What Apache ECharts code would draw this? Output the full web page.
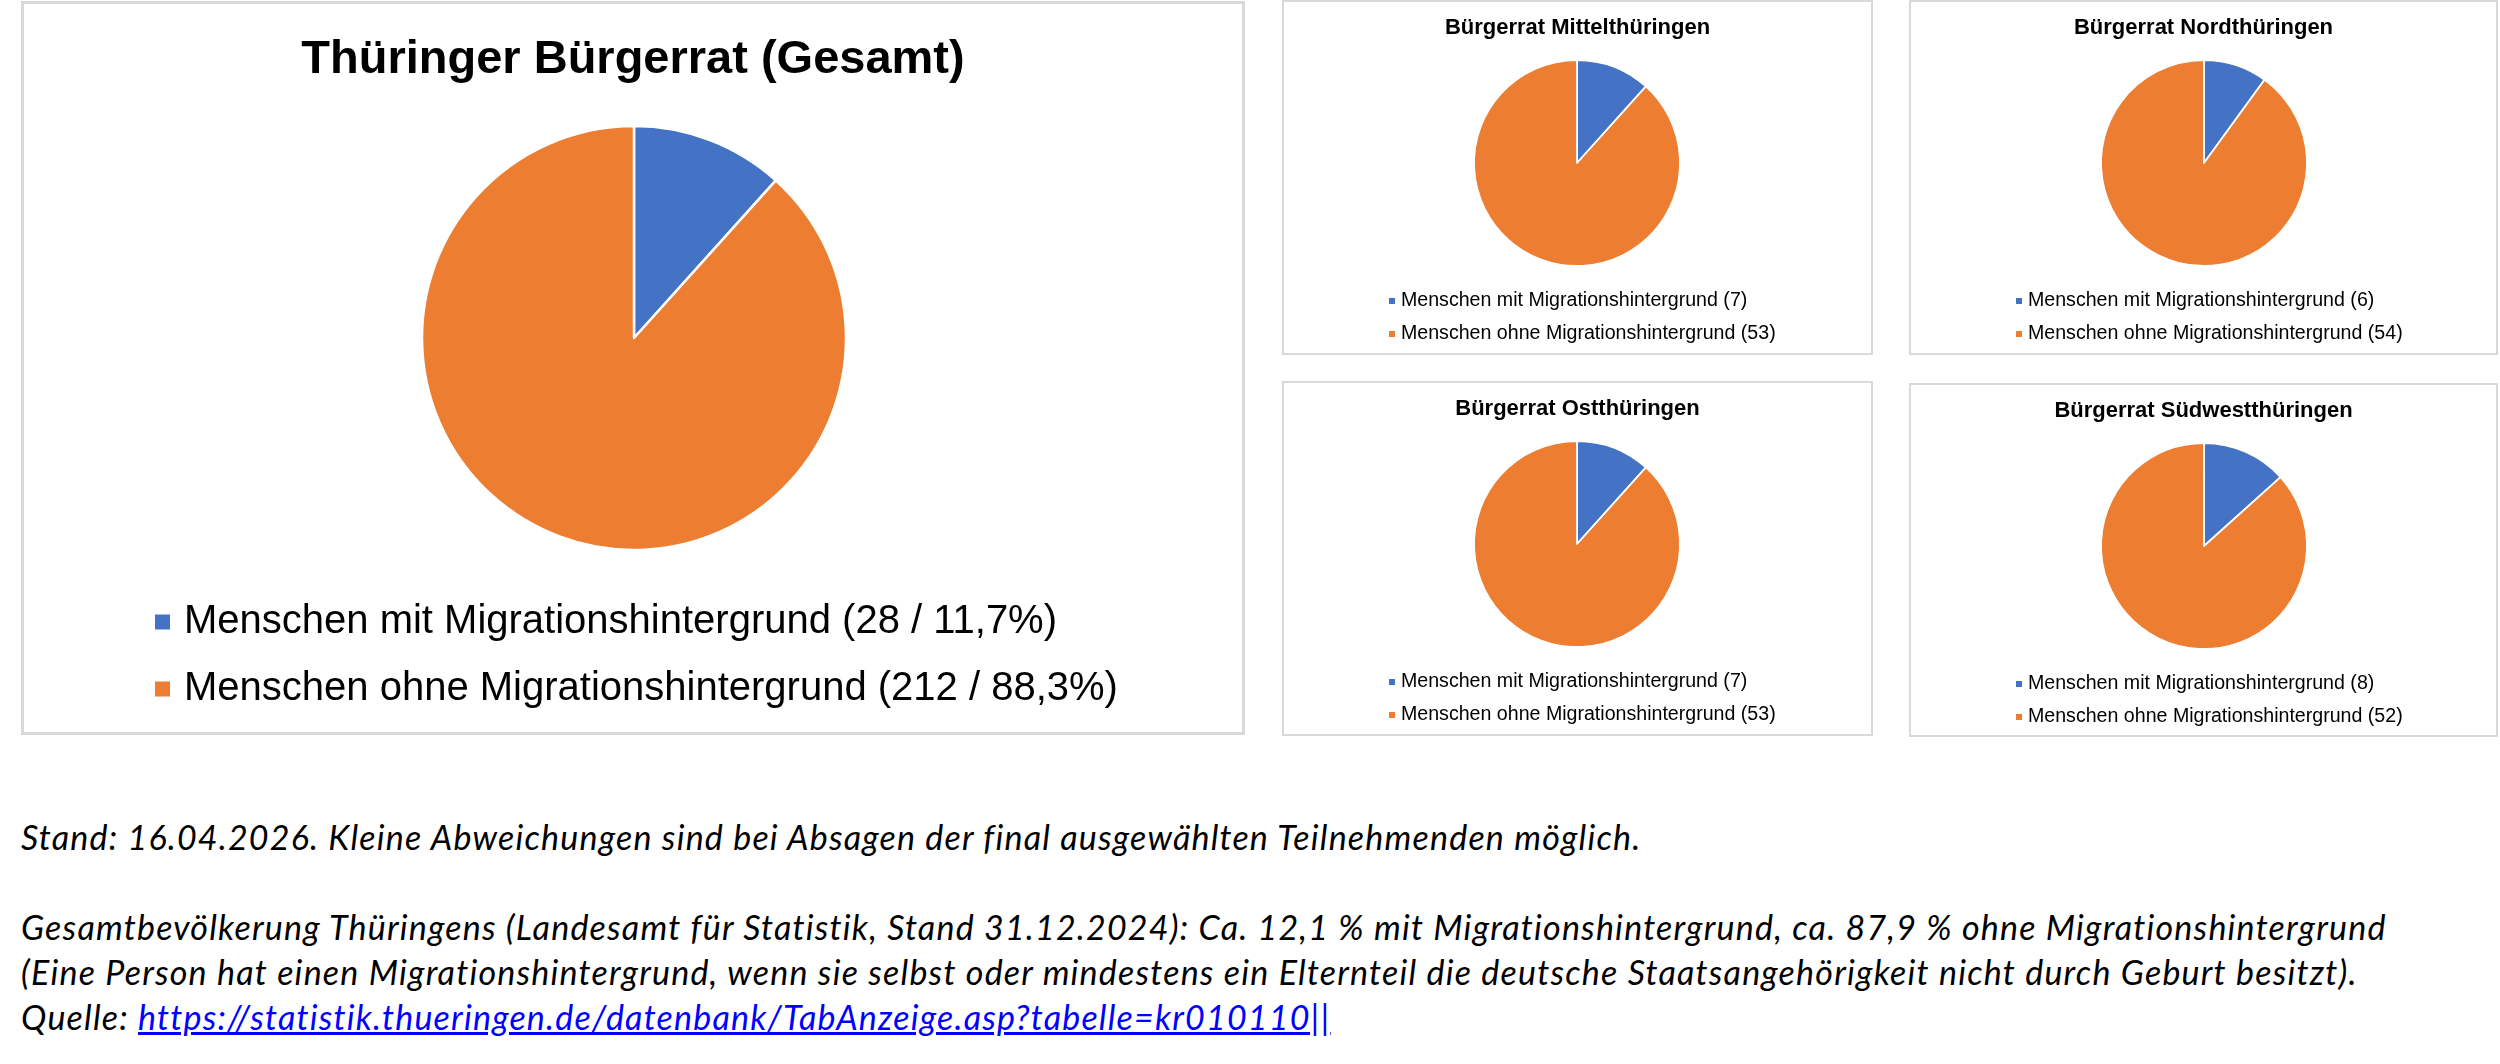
<!DOCTYPE html>
<html lang="de">
<head>
    <meta charset="UTF-8">
    <title>Thüringer Bürgerrat</title>
    <script src="https://cdn.jsdelivr.net/npm/echarts@6/dist/echarts.min.js"></script>
    <style>
        body { margin: 0; width: 2500px; height: 1064px; background: #fff; position: relative; overflow: hidden; }
        .box { position: absolute; box-sizing: border-box; border: 2px solid #d9d9d9; background: #fff; }
        #box_total { left: 21px; top: 1px; width: 1224px; height: 734px; border-width: 3px; }
        #box_mitte { left: 1282px; top: 0; width: 591px; height: 355px; }
        #box_nord { left: 1909px; top: 0; width: 589px; height: 355px; }
        #box_ost { left: 1282px; top: 381px; width: 591px; height: 355px; }
        #box_suedwest { left: 1909px; top: 383px; width: 589px; height: 354px; }
        .note {
            position: absolute; left: 21px; margin: 0;
            font-family: Lato, "Open Sans", sans-serif; font-style: italic;
            font-size: 34px; letter-spacing: 1.2px; line-height: 45px; color: #000; white-space: nowrap;
        }
        .note a { color: #0000ff; text-decoration: underline; }
    </style>
</head>
<body>
<div class="box" id="box_total"></div>
<div class="box" id="box_mitte"></div>
<div class="box" id="box_nord"></div>
<div class="box" id="box_ost"></div>
<div class="box" id="box_suedwest"></div>

<p class="note" style="top:814px">Stand: 16.04.2026. Kleine Abweichungen sind bei Absagen der final ausgewählten Teilnehmenden möglich.</p>
<p class="note" style="top:904px">Gesamtbevölkerung Thüringens (Landesamt für Statistik, Stand 31.12.2024): Ca. 12,1 % mit Migrationshintergrund, ca. 87,9 % ohne Migrationshintergrund<br>(Eine Person hat einen Migrationshintergrund, wenn sie selbst oder mindestens ein Elternteil die deutsche Staatsangehörigkeit nicht durch Geburt besitzt).<br>Quelle: <a href="https://statistik.thueringen.de/datenbank/TabAnzeige.asp?tabelle=kr010110||">https://statistik.thueringen.de/datenbank/TabAnzeige.asp?tabelle=kr010110||</a></p>

<script>
    // Daten
    var categories = ['Menschen mit Migrationshintergrund', 'Menschen ohne Migrationshintergrund'];
    var sliceColors = ['#4472C4', '#ED7D31'];

    var totalTitle = 'Thüringer Bürgerrat (Gesamt)';
    var totalValues = [28, 212];

    var regionTitles = ['Bürgerrat Mittelthüringen', 'Bürgerrat Nordthüringen', 'Bürgerrat Ostthüringen', 'Bürgerrat Südwestthüringen'];
    var mitteValues = [7, 53];
    var nordValues = [6, 54];
    var ostValues = [7, 53];
    var suedwestValues = [8, 52];

    var font = '"Liberation Sans", Arial, sans-serif';

    function pieData(values) {
        var list = [];
        for (var i = 0; i < categories.length; i++) {
            list.push({ name: categories[i], value: values[i] });
        }
        return list;
    }

    // Gesamt: Legende mit Anzahl und Prozent
    var sum = totalValues[0] + totalValues[1];
    var totalChart = echarts.init(document.getElementById('box_total'));
    totalChart.setOption({
        animation: false,
        color: sliceColors,
        title: {
            text: totalTitle,
            left: 'center',
            top: 33,
            padding: 0,
            textStyle: { fontFamily: font, fontSize: 47, fontWeight: 'bold', color: '#000', lineHeight: 47 }
        },
        legend: {
            orient: 'vertical',
            left: 129,
            top: 598,
            padding: 0,
            icon: 'rect',
            itemWidth: 17,
            itemHeight: 17,
            itemGap: 27,
            selectedMode: false,
            textStyle: { fontFamily: font, fontSize: 40, color: '#000', lineHeight: 40, padding: [0, 0, 0, 8] },
            formatter: function (name) {
                var v = totalValues[categories.indexOf(name)];
                var pct = (v / sum * 100).toFixed(1).replace('.', ',');
                return name + ' (' + v + ' / ' + pct + '%)';
            },
            data: categories
        },
        series: [{
            type: 'pie',
            center: [610, 334],
            radius: [0, 212],
            startAngle: 90,
            label: { show: false },
            labelLine: { show: false },
            emphasis: { disabled: true },
            itemStyle: { borderColor: '#fff', borderWidth: 2.5 },
            data: pieData(totalValues)
        }]
    });

    // Regionen
    function regionChart(id, title, values) {
        var chart = echarts.init(document.getElementById(id));
        chart.setOption({
            animation: false,
            color: sliceColors,
            title: {
                text: title,
                left: 'center',
                top: 15,
                padding: 0,
                textStyle: { fontFamily: font, fontSize: 22, fontWeight: 'bold', color: '#000', lineHeight: 22 }
            },
            legend: {
                orient: 'vertical',
                left: 103,
                top: 289,
                padding: 0,
                icon: 'rect',
                itemWidth: 8,
                itemHeight: 8,
                itemGap: 13,
                selectedMode: false,
                textStyle: { fontFamily: font, fontSize: 19.6, color: '#000', lineHeight: 20 },
                formatter: function (name) {
                    return name + ' (' + values[categories.indexOf(name)] + ')';
                },
                data: categories
            },
            series: [{
                type: 'pie',
                center: [293, 161],
                radius: [0, 103],
                startAngle: 90,
                label: { show: false },
                labelLine: { show: false },
                emphasis: { disabled: true },
                itemStyle: { borderColor: '#fff', borderWidth: 1.8 },
                data: pieData(values)
            }]
        });
    }

    regionChart('box_mitte', regionTitles[0], mitteValues);
    regionChart('box_nord', regionTitles[1], nordValues);
    regionChart('box_ost', regionTitles[2], ostValues);
    regionChart('box_suedwest', regionTitles[3], suedwestValues);
</script>
</body>
</html>
